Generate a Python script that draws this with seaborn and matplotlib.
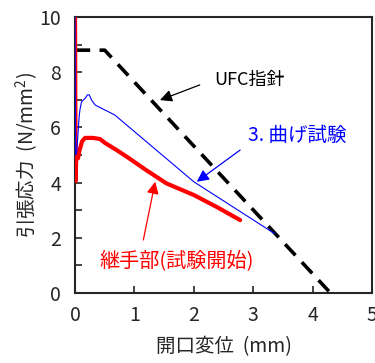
import matplotlib
matplotlib.use("Agg")
import matplotlib.pyplot as plt
import seaborn as sns
import pandas as pd
import numpy as np

# ---- data ----
ufc_x = [0.0, 0.5, 4.3]
ufc_y = [8.8, 8.8, 0.0]

bend_x = [0.0, 0.01, 0.03, 0.045, 0.07, 0.084, 0.11, 0.17, 0.21, 0.24, 0.28, 0.34, 0.45, 0.67, 2.0, 3.36]
bend_y = [10.5, 5.0, 5.1, 5.6, 6.4, 6.65, 6.93, 7.05, 7.18, 7.18, 6.99, 6.81, 6.69, 6.45, 4.03, 2.15]

joint_x = [0.0, 0.01, 0.02, 0.05, 0.08, 0.12, 0.17, 0.3, 0.42, 0.51, 0.7, 0.87, 1.2, 1.54, 2.0, 2.4, 2.78]
joint_y = [10.5, 4.05, 4.9, 4.88, 5.2, 5.5, 5.62, 5.62, 5.58, 5.43, 5.18, 4.94, 4.45, 3.97, 3.55, 3.1, 2.64]

x_ticks = [0, 1, 2, 3, 4, 5]
y_ticks = [0, 2, 4, 6, 8, 10]

xlabel = "開口変位  (mm)"
ylabel = "引張応力  (N/mm$^2$)"
lab_ufc = "UFC指針"
lab_bend = "3. 曲げ試験"
lab_joint = "継手部(試験開始)"

sns.set_style("ticks")
plt.rcParams['font.family'] = ['Noto Sans CJK JP', 'DejaVu Sans']
plt.rcParams['mathtext.fontset'] = 'custom'
plt.rcParams['mathtext.rm'] = 'Noto Sans CJK JP'

fig = plt.figure(figsize=(3.75, 3.63), dpi=100)
ax = fig.add_axes([0.2, 0.193, 0.792, 0.76])

df_j = pd.DataFrame({"x": joint_x, "y": joint_y})
df_b = pd.DataFrame({"x": bend_x, "y": bend_y})
df_u = pd.DataFrame({"x": ufc_x, "y": ufc_y})

sns.lineplot(data=df_j, x="x", y="y", sort=False, estimator=None, ax=ax,
             color="#ff0000", linewidth=3.0, zorder=3)
sns.lineplot(data=df_b, x="x", y="y", sort=False, estimator=None, ax=ax,
             color="#0000ff", linewidth=0.8, zorder=4)
sns.lineplot(data=df_u, x="x", y="y", sort=False, estimator=None, ax=ax,
             color="black", linewidth=2.6, zorder=2)
ax.lines[-1].set_dashes((4.2, 2.6))
ax.lines[-1].set_dash_capstyle("butt")

ax.set_xlim(0, 5)
ax.set_ylim(0, 10)
ax.set_xticks(x_ticks)
ax.set_yticks(y_ticks)
ax.set_yticks([1, 3, 5, 7, 9], minor=True)
ax.tick_params(axis="both", which="both", direction="in", length=5, width=1.2,
               labelsize=14, top=False, right=False)
ax.tick_params(axis="x", pad=9)
ax.tick_params(axis="y", pad=10)
for s in ax.spines.values():
    s.set_linewidth(1.5)
    s.set_visible(True)
ax.set_xlabel(xlabel, fontsize=14, labelpad=7)
ax.set_ylabel(ylabel, fontsize=14, labelpad=-1)

arrow_kw = dict(arrowstyle="-|>", mutation_scale=18, lw=0.9, shrinkA=0, shrinkB=0)
ax.annotate("", xy=(1.43, 6.99), xytext=(2.10, 7.54),
            arrowprops=dict(color="black", **arrow_kw))
ax.annotate("", xy=(2.05, 4.03), xytext=(2.78, 5.18),
            arrowprops=dict(color="#0000ff", **arrow_kw))
ax.annotate("", xy=(1.35, 4.03), xytext=(1.15, 1.92),
            arrowprops=dict(color="#ff0000", **arrow_kw))

ax.text(2.94, 7.72, lab_ufc, fontsize=13, color="black", ha="center", va="center")
ax.text(3.75, 5.72, lab_bend, fontsize=14, color="#0000ff", ha="center", va="center")
ax.text(1.72, 1.12, lab_joint, fontsize=14.5, color="#ff0000", ha="center", va="center")

fig.savefig("out.png", dpi=100)
